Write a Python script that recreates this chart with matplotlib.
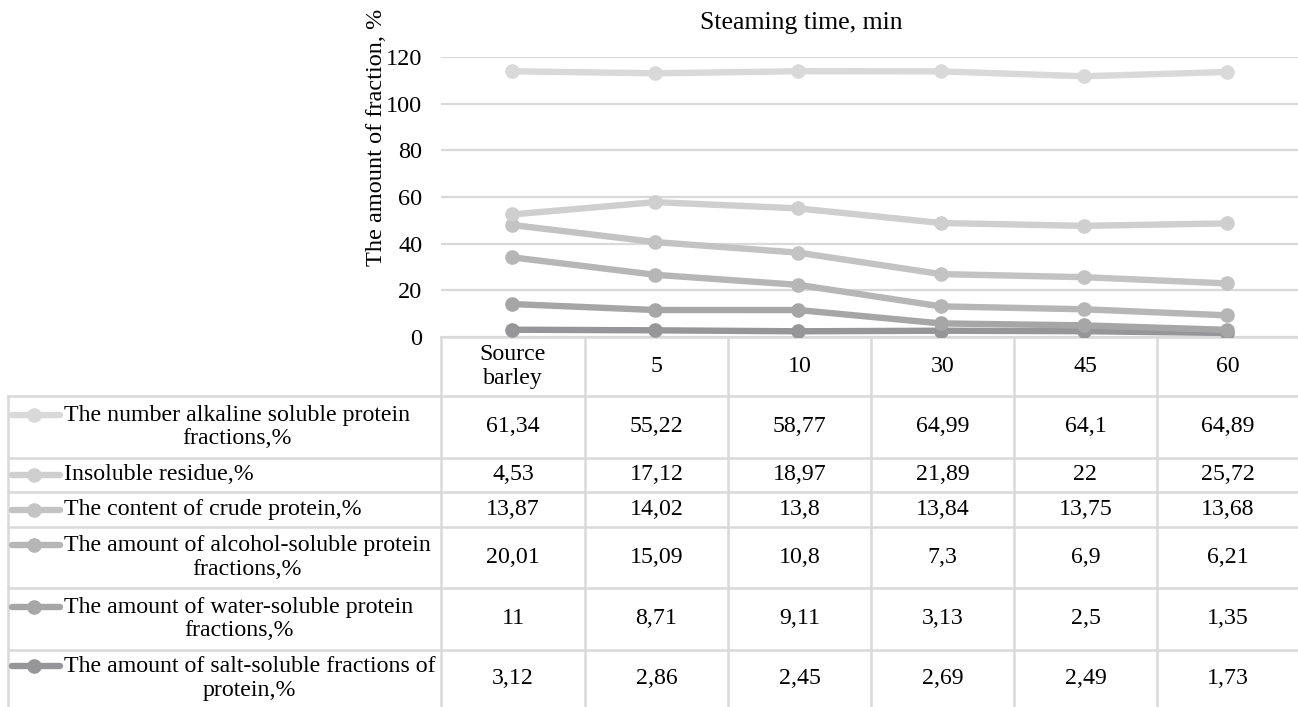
import matplotlib
matplotlib.use('Agg')
import matplotlib.pyplot as plt
import numpy as np

plt.rcParams['font.family'] = ['Liberation Serif', 'DejaVu Serif']

categories = ['Source\nbarley', '5', '10', '30', '45', '60']

# rows of the data table, top to bottom
row_names = [
    'The number alkaline soluble protein\nfractions,%',
    'Insoluble residue,%',
    'The content of crude protein,%',
    'The amount of alcohol-soluble protein\nfractions,%',
    'The amount of water-soluble protein\nfractions,%',
    'The amount of salt-soluble fractions of\nprotein,%',
]
alkaline = [61.34, 55.22, 58.77, 64.99, 64.1, 64.89]
insoluble = [4.53, 17.12, 18.97, 21.89, 22, 25.72]
crude = [13.87, 14.02, 13.8, 13.84, 13.75, 13.68]
alcohol = [20.01, 15.09, 10.8, 7.3, 6.9, 6.21]
water = [11, 8.71, 9.11, 3.13, 2.5, 1.35]
salt = [3.12, 2.86, 2.45, 2.69, 2.49, 1.73]

rows = [alkaline, insoluble, crude, alcohol, water, salt]
colors = ['#d9d9d9', '#cfcfcf', '#c3c3c4', '#b6b6b7', '#a6a6a7', '#969698']

W, H = 1298, 707
FS = 17.2
GRID = '#d9d9d9'

fig = plt.figure(figsize=(W / 100, H / 100), dpi=100)

# page overlay in pixel units for the table
page = fig.add_axes([0, 0, 1, 1])
page.set_xlim(0, W)
page.set_ylim(H, 0)
page.axis('off')

# plot area
x0, x1, y_top, y_base = 441, 1298, 57, 337
ax = fig.add_axes([x0 / W, 1 - y_base / H, (x1 - x0) / W, (y_base - y_top) / H])
ax.set_facecolor('none')

# stacked lines: salt at the bottom, alkaline on top
x = np.arange(len(categories))
stack = np.zeros(len(categories))
for vals, col in list(zip(rows, colors))[::-1]:
    stack = stack + np.array(vals)
    ax.plot(x, stack, color=col, lw=4.6, marker='o', ms=9.5, solid_capstyle='round')

ax.set_xlim(-0.5, len(categories) - 0.5)
ax.set_ylim(0, 120)
ax.set_yticks(range(0, 121, 20))
ax.tick_params(axis='y', length=0, labelsize=17.5, pad=13.5)
ax.set_xticks([])
ax.grid(axis='y', color=GRID, lw=1.6)
ax.set_axisbelow(True)
for s in ax.spines.values():
    s.set_visible(False)

page.text(376, 137, 'The amount of fraction, %', rotation=90, ha='center', va='center', fontsize=17.5)
page.text(801, 23, 'Steaming time, min', ha='center', va='center', fontsize=18.5)

# data table
col_edges = [441, 585, 728, 871, 1014, 1157, 1298]
row_edges = [396, 458, 492, 527, 588, 650, 707]
lw_t = 1.8

page.plot([x0, W], [y_base, y_base], color=GRID, lw=lw_t)
for xe in col_edges[:-1]:
    page.plot([xe, xe], [y_base, H], color=GRID, lw=lw_t)
for ye in row_edges[:-1]:
    page.plot([8, W], [ye, ye], color=GRID, lw=lw_t)
page.plot([8, 8], [row_edges[0], H], color=GRID, lw=lw_t)

centers = [(col_edges[i] + col_edges[i + 1]) / 2 for i in range(len(categories))]
for cx, cat in zip(centers, categories):
    page.text(cx, (y_base + row_edges[0]) / 2, cat, ha='center', va='center', fontsize=FS, linespacing=1.15)

for i, (name, vals, col) in enumerate(zip(row_names, rows, colors)):
    top, bot = row_edges[i], row_edges[i + 1]
    cy = (top + bot) / 2
    ky = cy - 12.5 if '\n' in name else cy
    page.plot([12, 60], [ky, ky], color=col, lw=4.6, solid_capstyle='round')
    page.plot([34], [ky], marker='o', ms=9.5, color=col)
    page.text(64, cy, name, ha='left', va='center', multialignment='center', fontsize=FS, linespacing=1.15)
    for cx, v in zip(centers, vals):
        page.text(cx, cy, f'{v:g}'.replace('.', ','), ha='center', va='center', fontsize=FS)

fig.savefig('out.png', dpi=100)
